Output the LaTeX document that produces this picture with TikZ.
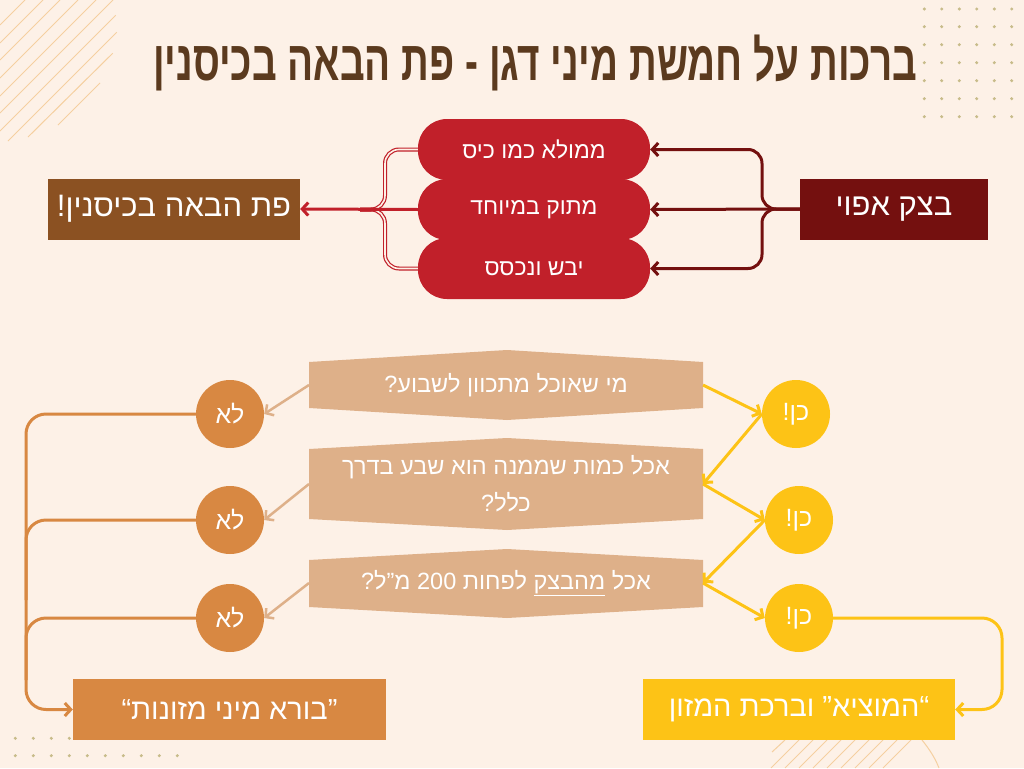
\documentclass[tikz,border=0pt]{standalone}
\usepackage{graphicx}
\usepackage{fontspec}
\usetikzlibrary{arrows.meta}
\TeXXeTstate=1
\newfontfamily\heb[Script=Hebrew]{Liberation Sans}
\definecolor{bgc}{HTML}{FDF1E7}
\definecolor{titlec}{HTML}{5B3A1E}
\definecolor{darkred}{HTML}{74100F}
\definecolor{redc}{HTML}{C1202A}
\definecolor{brownc}{HTML}{8B5122}
\definecolor{tanc}{HTML}{DEB089}
\definecolor{orangec}{HTML}{D88842}
\definecolor{yellowc}{HTML}{FDC316}
\definecolor{decoc}{HTML}{F5CFA0}
\definecolor{dotc}{HTML}{C8BC8A}
\tikzset{
  tip/.style={-{Straight Barb[length=6pt,width=13pt]}},
  pill/.style={fill=redc, rounded corners=29, minimum width=232, minimum height=61, inner sep=0, text=white, font=\heb\fontsize{23}{26}\selectfont},
  sqbox/.style={inner sep=0, text=white, minimum height=61},
  circ/.style={circle, minimum size=68, inner sep=0, text=white, font=\heb\fontsize{25}{28}\selectfont},
  hex/.style={fill=tanc},
  hextext/.style={text=white, font=\heb\fontsize{23.5}{37}\selectfont, align=center},
  deco/.style={draw=decoc, line width=1pt},
  dot/.style={fill=dotc},
}
\begin{document}
\begin{tikzpicture}[x=1pt,y=-1pt]
\fill[bgc] (0,0) rectangle (1024,768);
\useasboundingbox (0,0) rectangle (1024,768);
% decorations top-left
\foreach \c in {25,43,60,78,96,113} \draw[deco] (0,\c) -- (\c,0);
\draw[deco] (0,131) -- (115.7,15.3);
\draw[deco] (8,141) -- (116.7,32.3);
\draw[deco] (28,137) -- (112.7,53.3);
\draw[deco] (58,125) -- (100,83);
% dots top-right
\foreach \x in {924.3,941.7,959.3,976.7,994.3,1011.7}
  \foreach \y in {9,26.7,44.7,62.7,80.7,98.7,116.7}
    \fill[dot] (\x,\y) circle (1.7);
% dots bottom-left
\foreach \x in {15.3,33.3,51.3,69.3,87.3,105.3,123.3,141.3,159.3,177.3}
  \foreach \y in {738.3,755.7}
    \fill[dot] (\x,\y) circle (1.7);
% decorations bottom-right
\draw[deco] (772,752) -- (785,740);
\foreach \x in {799,813,827,841,855,869,883,897,911} \draw[deco] (\x-28,768) -- (\x,740);
\draw[deco] (922,740) .. controls (930,750) and (935,758) .. (939,768);
% title
\node[text=titlec, inner sep=0] (title) at (535,63) {\scalebox{0.69}[1]{\heb\bfseries\fontsize{56}{56}\selectfont\beginR ברכות על חמשת מיני דגן - פת הבאה בכיסנין\endR}};
% top section
\node[pill] (p1) at (534,149.5) {\beginR ממולא כמו כיס\endR};
\node[pill] (p2) at (534,209.5) {\beginR מתוק במיוחד\endR};
\node[pill] (p3) at (534,268.5) {\beginR יבש ונכסס\endR};
\node[sqbox, fill=darkred, minimum width=188, font=\heb\fontsize{31}{34}\selectfont] (rb) at (894,209) {\beginR בצק אפוי\endR};
\node[sqbox, fill=brownc, minimum width=252, font=\heb\fontsize{31}{34}\selectfont] (lb) at (174,209) {\beginR פת הבאה בכיסנין!\endR};
\draw[darkred, line width=3pt, tip] (rb.west) -- (p2.east);
\draw[darkred, line width=3pt, tip, rounded corners=14] (rb.west) -- (762,209) -- (762,149.5) -- (p1.east);
\draw[darkred, line width=3pt, tip, rounded corners=14] (rb.west) -- (762,209) -- (762,268.5) -- (p3.east);
\draw[redc, line width=1.2pt, double=bgc, double distance=1.6pt, rounded corners=14] (p1.west) -- (385,149.5) -- (385,209.5) -- (360,209.5);
\draw[redc, line width=1.2pt, double=bgc, double distance=1.6pt, rounded corners=14] (p3.west) -- (385,268.5) -- (385,209.5) -- (360,209.5);
\draw[redc, line width=3pt, tip] (p2.west) -- (lb.east);
% hexagons
\fill[hex] (309,362) -- (507,350) -- (703,362) -- (703,408) -- (507,420) -- (309,408) -- cycle;
\fill[hex] (309,449) -- (507,438) -- (703,449) -- (703,519) -- (507,530) -- (309,519) -- cycle;
\fill[hex] (309,560) -- (507,549) -- (703,560) -- (703,607) -- (507,618) -- (309,607) -- cycle;
\node[hextext] (q1) at (506,385) {\beginR מי שאוכל מתכוון לשבוע?\endR};
\node[hextext] (q2) at (506,484) {\beginR אכל כמות שממנה הוא שבע בדרך\endR\\\beginR כלל?\endR};
\node[hextext] (q3) at (506,583) {\beginR אכל \underline{\beginR מהבצק\endR} לפחות \beginL200\endL{} מ”ל?\endR};
\coordinate (h1l) at (309,385);
\coordinate (h2l) at (309,484);
\coordinate (h3l) at (309,583);
\coordinate (h1r) at (703,385);
\coordinate (h2r) at (703,484);
\coordinate (h3r) at (703,583);
% circles
\node[circ, fill=orangec] (n1) at (230,414) {\beginR לא\endR};
\node[circ, fill=orangec] (n2) at (230,520) {\beginR לא\endR};
\node[circ, fill=orangec] (n3) at (230,618) {\beginR לא\endR};
\node[circ, fill=yellowc] (y1) at (796,414) {\beginR כן!\endR};
\node[circ, fill=yellowc] (y2) at (799,520) {\beginR כן!\endR};
\node[circ, fill=yellowc] (y3) at (799,618) {\beginR כן!\endR};
% bottom boxes
\node[sqbox, fill=orangec, minimum width=313, font=\heb\fontsize{29}{32}\selectfont] (bl) at (229.5,709.5) {\beginR ”בורא מיני מזונות“\endR};
\node[sqbox, fill=yellowc, minimum width=312, font=\heb\fontsize{29}{32}\selectfont] (br) at (799,709.5) {\beginR “המוציא” וברכת המזון\endR};
% no arrows
\draw[tanc, line width=2.5pt, tip] (h1l) -- (n1.east);
\draw[tanc, line width=2.5pt, tip] (h2l) -- (n2.east);
\draw[tanc, line width=2.5pt, tip] (h3l) -- (n3.east);
% yes arrows
\draw[yellowc, line width=3pt, tip] (h1r) -- (y1.west);
\draw[yellowc, line width=3pt, tip] (y1.west) -- (h2r);
\draw[yellowc, line width=3pt, tip] (h2r) -- (y2.west);
\draw[yellowc, line width=3pt, tip] (y2.west) -- (h3r);
\draw[yellowc, line width=3pt, tip] (h3r) -- (y3.west);
% side connectors
\draw[orangec, line width=3pt, rounded corners=20] (n2.west) -- (26,520) -- (26,600);
\draw[orangec, line width=3pt, rounded corners=20] (n3.west) -- (26,618) -- (26,680);
\draw[orangec, line width=3pt, tip, rounded corners=20] (n1.west) -- (26,414) -- (26,709.5) -- (bl.west);
\draw[yellowc, line width=3pt, tip, rounded corners=20] (y3.east) -- (1002,618) -- (1002,709.5) -- (br.east);
\end{tikzpicture}
\end{document}
